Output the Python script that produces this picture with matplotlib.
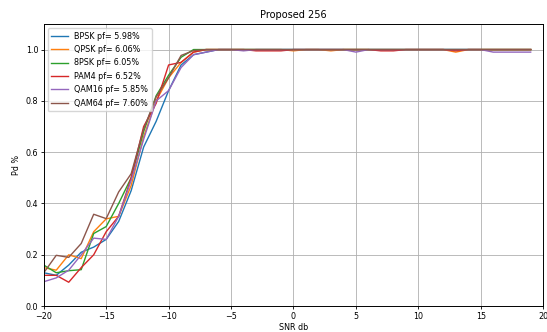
import numpy as np
import matplotlib
matplotlib.use("Agg")
import matplotlib.pyplot as plt

snr = list(range(-20, 20))

# detection probability per modulation
tail = [1.0] * 26
bpsk = [0.13, 0.12, 0.16, 0.21, 0.23, 0.26, 0.33, 0.45, 0.62, 0.72, 0.84, 0.94, 0.98, 0.99] + tail
qpsk = [0.15, 0.14, 0.20, 0.185, 0.29, 0.34, 0.35, 0.47, 0.66, 0.80, 0.89, 0.95, 0.99, 1.0] + \
    [1.0, 1.0, 1.0, 1.0, 1.0, 1.0, 0.995, 1.0, 1.0, 0.995, 1.0, 1.0, 1.0, 1.0, 1.0, 1.0, 1.0, 1.0, 1.0, 0.99, 1.0, 1.0, 1.0, 1.0, 1.0, 1.0]
psk8 = [0.16, 0.13, 0.138, 0.142, 0.283, 0.31, 0.40, 0.50, 0.68, 0.82, 0.90, 0.97, 1.0, 1.0] + tail
pam4 = [0.12, 0.12, 0.093, 0.15, 0.20, 0.29, 0.35, 0.50, 0.70, 0.79, 0.94, 0.95, 0.99, 1.0] + \
    [1.0, 1.0, 1.0, 0.995, 0.995, 0.995, 1.0, 1.0, 1.0, 1.0, 1.0, 1.0, 1.0, 0.995, 0.995, 1.0, 1.0, 1.0, 1.0, 0.995, 1.0, 1.0, 1.0, 1.0, 1.0, 1.0]
qam16 = [0.095, 0.11, 0.14, 0.20, 0.265, 0.26, 0.35, 0.49, 0.65, 0.80, 0.84, 0.93, 0.98, 0.99] + \
    [1.0, 1.0, 0.995, 1.0, 1.0, 1.0, 1.0, 1.0, 1.0, 1.0, 1.0, 0.99, 1.0, 1.0, 1.0, 1.0, 1.0, 1.0, 1.0, 1.0, 1.0, 1.0, 0.99, 0.99, 0.99, 0.99]
qam64 = [0.13, 0.198, 0.19, 0.244, 0.358, 0.341, 0.445, 0.516, 0.69, 0.815, 0.89, 0.977, 0.996, 1.0] + tail

labels = ["BPSK pf= 5.98%", "QPSK pf= 6.06%", "8PSK pf= 6.05%",
          "PAM4 pf= 6.52%", "QAM16 pf= 5.85%", "QAM64 pf= 7.60%"]
series = [bpsk, qpsk, psk8, pam4, qam16, qam64]

fig = plt.figure(figsize=(5.47, 3.32), dpi=100)
ax = fig.add_axes([0.080, 0.078, 0.913, 0.850])
for ys, lab in zip(series, labels):
    ax.plot(snr, ys, label=lab, linewidth=1.0)

ax.set_xlim(-20, 20)
ax.set_ylim(0, 1.1)
ax.set_yticks(np.arange(0, 1.01, 0.2))
ax.grid(True, color="#b0b0b0", linewidth=0.6)
ax.tick_params(labelsize=5.8, length=2.5, width=0.6, pad=1.5)
for s in ax.spines.values():
    s.set_linewidth(0.7)
ax.set_title("Proposed 256", fontsize=7, pad=4)
ax.set_xlabel("SNR db", fontsize=5.8, labelpad=1.5)
ax.set_ylabel("Pd %", fontsize=5.8, labelpad=3)
ax.legend(loc="upper left", fontsize=5.8, handlelength=2.0, labelspacing=0.55,
          borderpad=0.45, frameon=True)

fig.savefig("out.png", dpi=100)
